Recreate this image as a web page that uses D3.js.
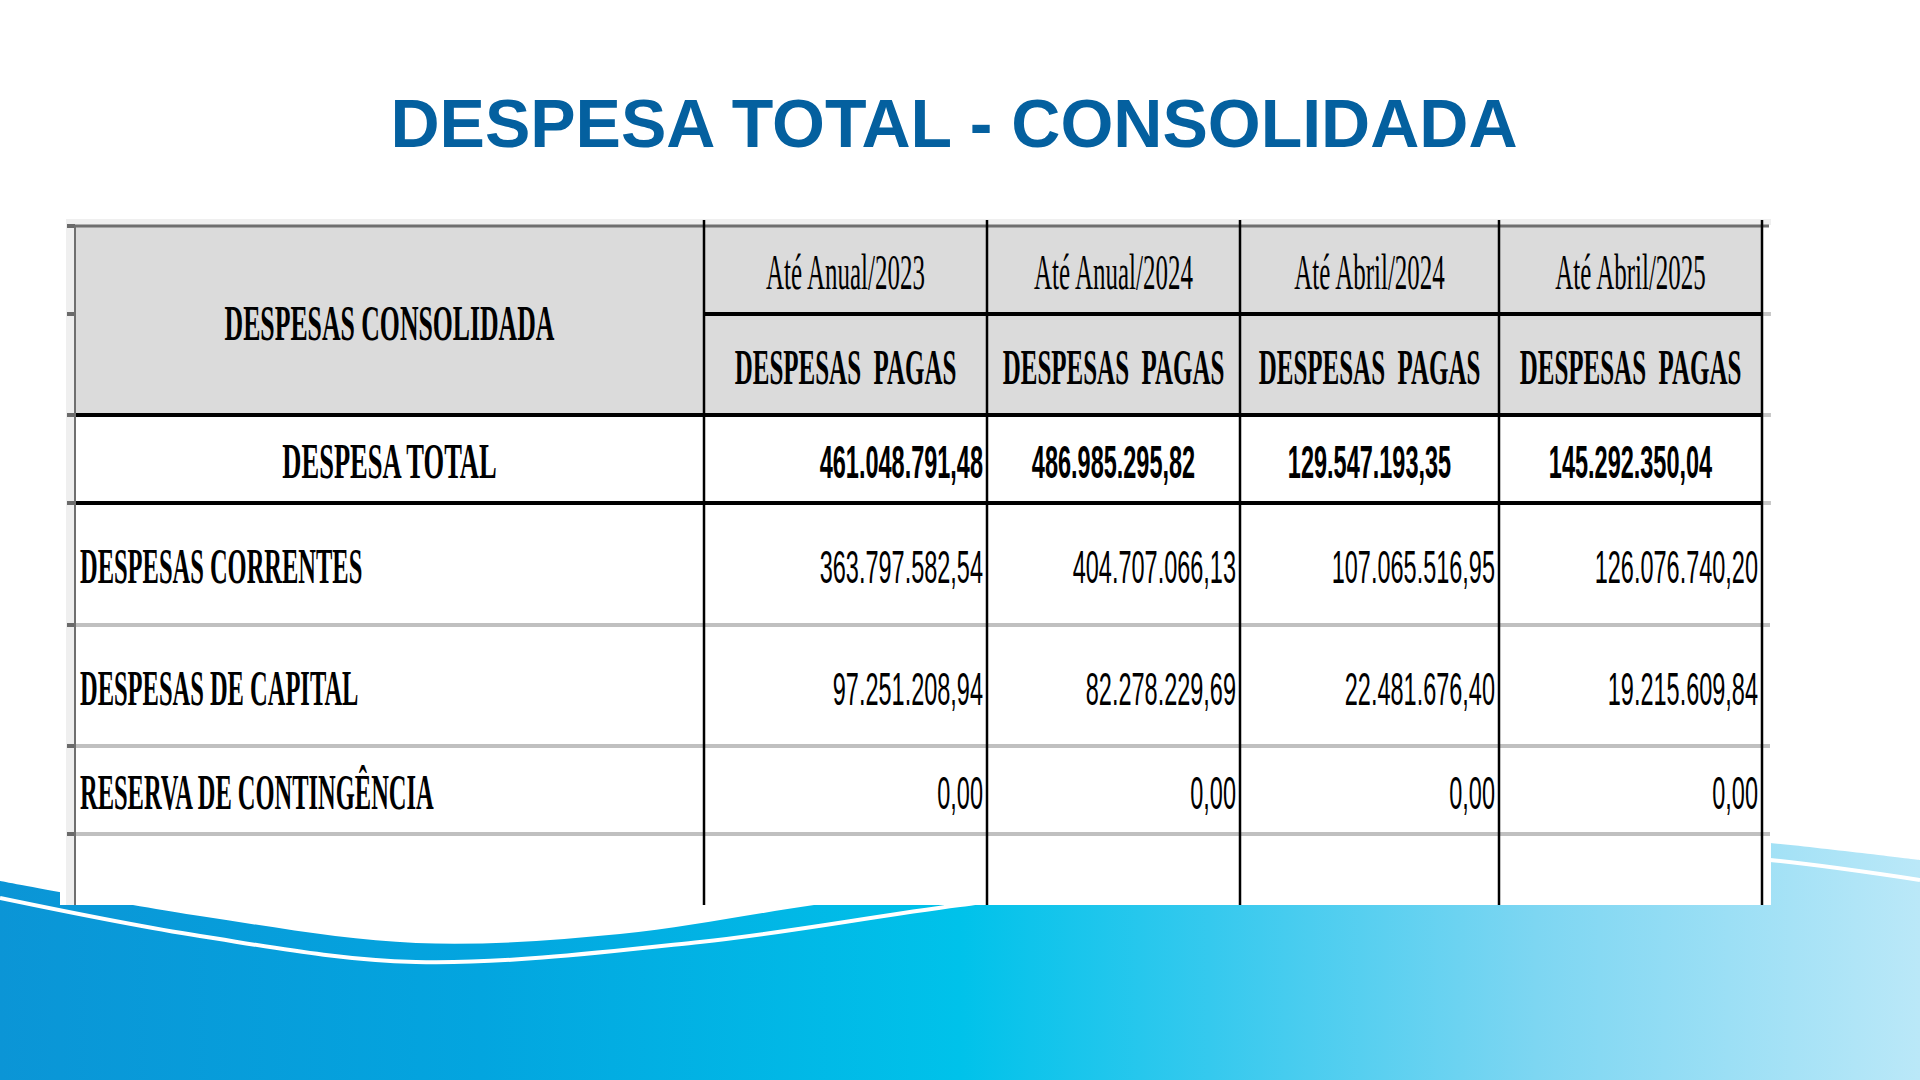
<!DOCTYPE html>
<html>
<head>
<meta charset="utf-8">
<script src="https://cdn.jsdelivr.net/npm/d3@7"></script>
<style>
  html, body { margin: 0; padding: 0; background: #fff; overflow: hidden; }
  svg { display: block; }
</style>
</head>
<body>
<svg id="chart"></svg>
<script>
var titulo = 'DESPESA TOTAL - CONSOLIDADA';
var cabecalho = 'DESPESAS CONSOLIDADA';
var periodos = ['Até Anual/2023', 'Até Anual/2024', 'Até Abril/2024', 'Até Abril/2025'];
var tipoDespesa = 'DESPESAS  PAGAS';
var categorias = ['DESPESA TOTAL', 'DESPESAS CORRENTES', 'DESPESAS DE CAPITAL', 'RESERVA DE CONTINGÊNCIA'];
var despesaTotal = [461048791.48, 486985295.82, 129547193.35, 145292350.04];
var despesasCorrentes = [363797582.54, 404707066.13, 107065516.95, 126076740.20];
var despesasCapital = [97251208.94, 82278229.69, 22481676.40, 19215609.84];
var reservaContingencia = [0, 0, 0, 0];

var linhas = [despesaTotal, despesasCorrentes, despesasCapital, reservaContingencia];

var width = 1920,
    height = 1080;

var svg = d3.select('#chart')
    .attr('width', width)
    .attr('height', height);

var brl = d3.formatLocale({ decimal: ',', thousands: '.', grouping: [3], currency: ['R$', ''] });
var fmt = brl.format(',.2f');

// ---- fundo: onda azul no rodape
var defs = svg.append('defs');
var grad = defs.append('linearGradient')
    .attr('id', 'onda')
    .attr('x1', 0).attr('x2', 1).attr('y1', 0).attr('y2', 0);
[['0', '#0b95d6'], ['0.25', '#03a5df'], ['0.5', '#00c2ea'], ['0.63', '#35c9ee'],
 ['0.8', '#7dd6f2'], ['1', '#bae8f8']].forEach(function(s) {
  grad.append('stop').attr('offset', s[0]).attr('stop-color', s[1]);
});

var curva = d3.line().curve(d3.curveCatmullRom.alpha(0.5));

var topo = [[0, 881], [200, 916], [416, 943], [620, 934], [814, 905], [1100, 864],
            [1400, 838], [1650, 834], [1770, 843], [1920, 860]];
var faixa = [[0, 898], [200, 936], [416, 962], [700, 942], [960, 905], [1300, 864],
             [1600, 849], [1770, 860], [1920, 880]];

svg.append('path')
    .attr('d', curva(topo) + 'L' + width + ',' + height + 'L0,' + height + 'Z')
    .attr('fill', 'url(#onda)');

svg.append('path')
    .attr('d', curva(faixa))
    .attr('fill', 'none')
    .attr('stroke', '#fff')
    .attr('stroke-width', 4);

// ---- titulo
svg.append('text')
    .attr('x', 954)
    .attr('y', 147)
    .attr('text-anchor', 'middle')
    .style('font-family', '"Liberation Sans", Arial, sans-serif')
    .style('font-weight', 'bold')
    .style('font-size', '68px')
    .style('fill', '#04609f')
    .text(titulo);

// ---- tabela
var colunas = ['rotulo'].concat(periodos);
var colEdges = [75, 704, 987, 1240, 1499, 1762];
var x = d3.scaleOrdinal().domain(colunas.concat(['fim'])).range(colEdges);

var filas = ['periodo', 'tipo'].concat(categorias).concat(['vazio']);
var rowEdges = [226, 314, 415, 503, 625, 746, 834, 905];
var y = d3.scaleOrdinal().domain(filas.concat(['fim'])).range(rowEdges);

function proxima(dom, key) { return dom[dom.indexOf(key) + 1]; }
function xr(c) { return x(proxima(colunas.concat(['fim']), c)); }
function yb(r) { return y(proxima(filas.concat(['fim']), r)); }
function xc(c) { return (x(c) + xr(c)) / 2; }
function yc(r) { return (y(r) + yb(r)) / 2; }

var tabela = svg.append('g').attr('class', 'tabela');

// fundo branco da imagem colada
tabela.append('rect')
    .attr('x', 60).attr('y', 218)
    .attr('width', 1711).attr('height', 905 - 218)
    .attr('fill', '#fff');
tabela.append('rect')
    .attr('x', 66).attr('y', 219)
    .attr('width', 1705).attr('height', 6)
    .attr('fill', '#efefef');
tabela.append('rect')
    .attr('x', 66).attr('y', 219)
    .attr('width', 8).attr('height', 905 - 219)
    .attr('fill', '#efefef');

// cabecalho cinza
tabela.append('rect')
    .attr('x', x('rotulo')).attr('y', y('periodo'))
    .attr('width', x('fim') - x('rotulo'))
    .attr('height', y(categorias[0]) - y('periodo'))
    .attr('fill', '#dbdbdb');

// linhas horizontais
var hLinhas = [
  { r: 'periodo', at: y('periodo'), x0: x('rotulo'), x1: 1769, cor: '#6f6f6f', w: 3 },
  { r: 'tipo', at: y('tipo'), x0: x(periodos[0]), x1: x('fim'), cor: '#000', w: 4 },
  { r: categorias[0], at: y(categorias[0]), x0: x('rotulo'), x1: x('fim'), cor: '#000', w: 4 },
  { r: categorias[1], at: y(categorias[1]), x0: x('rotulo'), x1: x('fim'), cor: '#000', w: 4 },
  { r: categorias[2], at: y(categorias[2]), x0: x('rotulo'), x1: 1770, cor: '#c0c0c0', w: 4 },
  { r: categorias[3], at: y(categorias[3]), x0: x('rotulo'), x1: 1770, cor: '#c0c0c0', w: 4 },
  { r: 'vazio', at: y('vazio'), x0: x('rotulo'), x1: 1770, cor: '#c0c0c0', w: 4 }
];

tabela.selectAll('.hlinha')
    .data(hLinhas)
    .enter()
    .append('line')
    .attr('class', 'hlinha')
    .attr('x1', function(d) { return d.x0; })
    .attr('x2', function(d) { return d.x1; })
    .attr('y1', function(d) { return d.at; })
    .attr('y2', function(d) { return d.at; })
    .attr('stroke', function(d) { return d.cor; })
    .attr('stroke-width', function(d) { return d.w; });

// marcas cinzas de grade da planilha (esquerda e direita)
tabela.selectAll('.marcaE')
    .data(hLinhas)
    .enter()
    .append('rect')
    .attr('class', 'marcaE')
    .attr('x', 67).attr('width', 8)
    .attr('y', function(d) { return d.at - 2; })
    .attr('height', 4)
    .attr('fill', '#6a6a6a');

tabela.selectAll('.marcaD')
    .data(hLinhas.slice(1, 4))
    .enter()
    .append('rect')
    .attr('class', 'marcaD')
    .attr('x', x('fim') + 1).attr('width', 8)
    .attr('y', function(d) { return d.at - 2; })
    .attr('height', 4)
    .attr('fill', '#c8c8c8');

// linhas verticais
var vLinhas = colunas.concat(['fim']);
tabela.selectAll('.vlinha')
    .data(vLinhas)
    .enter()
    .append('line')
    .attr('class', 'vlinha')
    .attr('x1', function(d) { return x(d); })
    .attr('x2', function(d) { return x(d); })
    .attr('y1', function(d, i) { return i === 0 ? y('periodo') : y('periodo') - 6; })
    .attr('y2', y('fim'))
    .attr('stroke', function(d, i) { return i === 0 ? '#6f6f6f' : '#000'; })
    .attr('stroke-width', function(d, i) { return i === 0 ? 2 : 2.5; });

// texto comprimido (a tabela original e uma imagem esticada)
var serif = '"Liberation Serif", "Times New Roman", serif';
var sans = '"Liberation Sans", Arial, sans-serif';

function escreve(s, px, py, anchor, fonte, peso, tam, sx) {
  tabela.append('text')
      .attr('transform', 'translate(' + px + ',' + py + ') scale(' + sx + ',1)')
      .attr('text-anchor', anchor)
      .style('font-family', fonte)
      .style('font-weight', peso)
      .style('font-size', tam + 'px')
      .style('white-space', 'pre')
      .style('fill', '#000')
      .text(s);
}

var base = 19;

escreve(cabecalho, xc('rotulo'), (y('periodo') + y(categorias[0])) / 2 + base,
        'middle', serif, 'bold', 51, 0.505);

periodos.forEach(function(p) {
  escreve(p, xc(p), yc('periodo') + base, 'middle', serif, 'normal', 51, 0.49);
  escreve(tipoDespesa, xc(p), yc('tipo') + base, 'middle', serif, 'bold', 51, 0.49);
});

var alinhaTotal = ['end', 'middle', 'middle', 'middle'];

categorias.forEach(function(cat, r) {
  var total = r === 0;
  if (total) {
    escreve(cat, xc('rotulo'), yc(cat) + base, 'middle', serif, 'bold', 51, 0.52);
  } else {
    escreve(cat, x('rotulo') + 5, yc(cat) + base, 'start', serif, 'bold', 51, 0.48);
  }
  linhas[r].forEach(function(v, c) {
    var p = periodos[c];
    var anchor = total ? alinhaTotal[c] : 'end';
    var px = anchor === 'end' ? xr(p) - 4 : xc(p);
    escreve(fmt(v), px, yc(cat) + base, anchor, sans, total ? 'bold' : 'normal', 47, 0.5);
  });
});
</script>
</body>
</html>
